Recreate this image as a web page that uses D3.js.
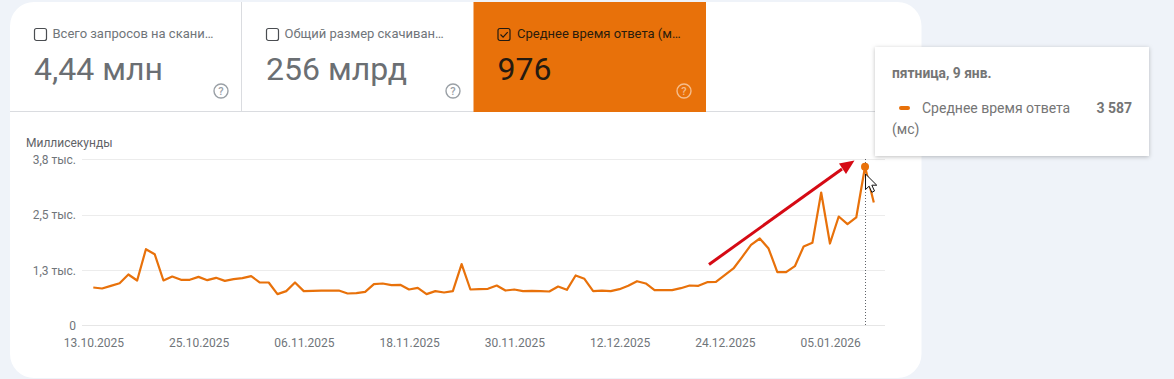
<!DOCTYPE html>
<html><head><meta charset="utf-8">
<script src="https://cdnjs.cloudflare.com/ajax/libs/d3/7.8.5/d3.min.js"></script>
<style>
html,body{margin:0;padding:0;background:#eff3f9;overflow:hidden}
svg{display:block;font-family:Roboto,sans-serif}
</style></head><body><svg id="c" width="1174" height="379"></svg>
<script>
const startDate = "2025-10-13";
const responseMs = [858,836,896,956,1152,1017,1724,1611,1017,1107,1032,1032,1099,1024,1077,1009,1047,1069,1114,971,971,708,776,971,776,783,790,790,790,723,730,760,934,949,911,919,813,851,708,776,745,776,1386,813,821,828,904,790,813,776,783,776,768,881,806,1130,1054,776,790,776,821,896,1001,949,798,798,798,843,904,896,979,986,1137,1288,1551,1822,1965,1739,1205,1205,1340,1785,1867,3004,1852,2462,2289,2440,3587,2779];
const yTickValues = [0,1250,2500,3750];
const yTickLabels = ["0","1,3 тыс.","2,5 тыс.","3,8 тыс."];
const xTickLabels = ["13.10.2025","25.10.2025","06.11.2025","18.11.2025","30.11.2025","12.12.2025","24.12.2025","05.01.2026"];
const tileLabels = ["Всего запросов на скани…","Общий размер скачиван…","Среднее время ответа (м…"];
const tileValues = ["4,44 млн","256 млрд","976"];
const highlightIndex = 88;
const tooltipDate = "пятница, 9 янв.";
const tooltipSeries = ["Среднее время ответа","(мс)"];
const tooltipValue = "3 587";

const orange="#e8710a", grey="#5f6368";
const svg=d3.select("#c");
const parse=d3.utcParse("%Y-%m-%d"), parseTick=d3.utcParse("%d.%m.%Y");
const t0=parse(startDate);
const dates=responseMs.map((_,i)=>d3.utcDay.offset(t0,i));
const x=d3.scaleUtc().domain([t0,dates[dates.length-1]]).range([93.3,873.8]);
const y=d3.scaleLinear().domain([0,3750]).range([325.5,159.5]);

// card
svg.append("rect").attr("x",10).attr("y",2).attr("width",911.5).attr("height",376).attr("rx",24).attr("fill","#fff");

// tiles
svg.append("line").attr("x1",10).attr("x2",921).attr("y1",111.5).attr("y2",111.5).attr("stroke","#dadce0");
svg.append("line").attr("x1",241.5).attr("x2",241.5).attr("y1",2).attr("y2",111).attr("stroke","#dadce0");
svg.append("rect").attr("x",473.5).attr("y",2).attr("width",232.5).attr("height",110).attr("fill",orange);
const tileX=[34,266,497.5];
tileLabels.forEach((lab,i)=>{
  const g=svg.append("g").attr("transform",`translate(${tileX[i]},0)`);
  const sel=i===2;
  g.append("rect").attr("x",.5).attr("y",28.5).attr("width",12).attr("height",12).attr("rx",2).attr("fill","none").attr("stroke",sel?"#201a12":"#4a4d51").attr("stroke-width",1.2);
  if(sel) g.append("path").attr("d","M3 34.5l2.6 2.7 4.6-5").attr("fill","none").attr("stroke","#201a12").attr("stroke-width",1.2);
  g.append("text").attr("x",i===2?19.5:18.5).attr("y",38).attr("font-size",13).attr("fill",sel?"#2a1c0c":"#70757a").text(lab);
  g.append("text").attr("x",0).attr("y",80).attr("font-size",32).attr("fill",sel?"#241a10":"#6b6f73").text(tileValues[i]);
  const qx=[221,453,684][i]-tileX[i];
  const qc=sel?"#f5bd8c":"#9aa0a6";
  const q=g.append("g").attr("transform",`translate(${qx},91)`);
  q.append("circle").attr("r",7).attr("fill","none").attr("stroke",qc).attr("stroke-width",1.4);
  q.append("text").attr("text-anchor","middle").attr("y",4).attr("font-size",11).attr("font-weight",500).attr("fill",qc).text("?");
});

// axis title
svg.append("text").attr("x",26).attr("y",147).attr("font-size",12).attr("fill",grey).text("Миллисекунды");

// y axis + grid
const yAxis=d3.axisLeft(y).tickValues(yTickValues).tickFormat((d,i)=>yTickLabels[i]).tickSize(0).tickPadding(6);
const gy=svg.append("g").attr("transform","translate(82,0)").call(yAxis);
gy.select(".domain").remove();
gy.selectAll("text").attr("font-size",12).attr("font-family","Roboto,sans-serif").attr("fill","#70757a");
const snap=d=>Math.round(y(d)-.3)+.5;
svg.append("g").selectAll("line").data(yTickValues).join("line")
  .attr("x1",82).attr("x2",885).attr("y1",snap).attr("y2",snap)
  .attr("stroke",(d)=>d===0?"#e6e6e6":"#ececec");

// x axis
const xAxis=d3.axisBottom(x).tickValues(xTickLabels.map(s=>parseTick(s))).tickFormat(d3.utcFormat("%d.%m.%Y")).tickSize(0).tickPadding(0);
const gx=svg.append("g").attr("transform","translate(0.1,338)").call(xAxis);
gx.select(".domain").remove();
gx.selectAll("text").attr("font-size",12).attr("font-family","Roboto,sans-serif").attr("fill","#70757a");

// crosshair
const hx=x(dates[highlightIndex]), hy=y(responseMs[highlightIndex]);
svg.append("line").attr("x1",Math.round(hx)+.5).attr("x2",Math.round(hx)+.5).attr("y1",159).attr("y2",326)
  .attr("stroke","#5f6368").attr("stroke-dasharray","1 2");

// line
svg.append("path").datum(responseMs)
  .attr("d",d3.line().x((d,i)=>x(dates[i])).y(d=>y(d)))
  .attr("fill","none").attr("stroke",orange).attr("stroke-width",2.2).attr("stroke-linejoin","round");
svg.append("circle").attr("cx",hx).attr("cy",hy).attr("r",4).attr("fill",orange);

// red arrow annotation
svg.append("line").attr("x1",709).attr("y1",264.5).attr("x2",842).attr("y2",169).attr("stroke","#d50a14").attr("stroke-width",3);
svg.append("path").attr("d","M854.5 160.5L839 163.5L846 174Z").attr("fill","#d50a14");

// cursor
svg.append("path").attr("transform",`translate(${hx+.5},174)`)
  .attr("d","M0 0V15.5L3.6 12.2L6.3 18.3L9 17L6.3 11.2H11.2Z")
  .attr("fill","#fff").attr("stroke","#111").attr("stroke-width",1);

// tooltip
const defs=svg.append("defs");
const f=defs.append("filter").attr("id","sh").attr("x","-10%").attr("y","-10%").attr("width","120%").attr("height","125%");
f.append("feDropShadow").attr("dx",0).attr("dy",1).attr("stdDeviation",2).attr("flood-color","#000").attr("flood-opacity",.25);
svg.append("rect").attr("x",875).attr("y",47).attr("width",274).attr("height",109).attr("fill","#fff").attr("filter","url(#sh)");
svg.append("text").attr("x",892).attr("y",78).attr("font-size",13.8).attr("font-weight",700).attr("fill","#757575").text(tooltipDate);
svg.append("rect").attr("x",899).attr("y",106).attr("width",11).attr("height",4).attr("rx",2).attr("fill",orange);
svg.append("text").attr("x",922).attr("y",113).attr("font-size",14).attr("fill","#757575").text(tooltipSeries[0]);
svg.append("text").attr("x",892).attr("y",134).attr("font-size",14).attr("fill","#757575").text(tooltipSeries[1]);
svg.append("text").attr("x",1132).attr("y",113).attr("text-anchor","end").attr("font-size",14).attr("font-weight",700).attr("fill","#757575").text(tooltipValue);
</script></body></html>
